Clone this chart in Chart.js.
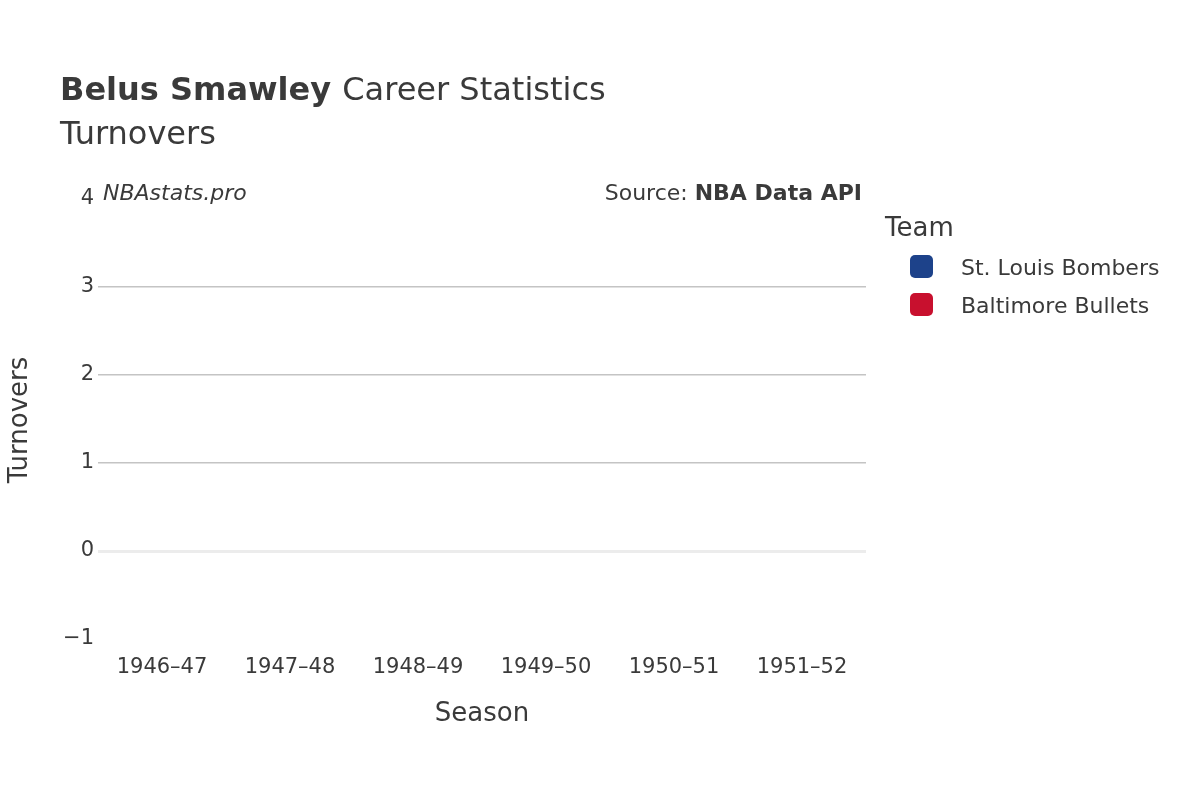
<!DOCTYPE html>
<html>
<head>
<meta charset="utf-8">
<script src="https://cdn.jsdelivr.net/npm/chart.js@4/dist/chart.umd.min.js"></script>
<style>body{margin:0;background:#fff}</style>
</head>
<body>
<canvas id="c" width="1200" height="800"></canvas>
<script>
// seasons on the x axis, no turnover values were recorded
const seasons = ['1946–47', '1947–48', '1948–49', '1949–50', '1950–51', '1951–52'];
const bombers = [null, null, null, null, null, null];
const bullets = [null, null, null, null, null, null];
const teams = ['St. Louis Bombers', 'Baltimore Bullets'];
const teamColors = ['#1d428a', '#c8102e'];
const yMin = -1, yMax = 4;

const font = '"DejaVu Sans", sans-serif';
const ink = '#3a3a3a';

const textPlugin = {
  id: 'texts',
  afterDraw(chart) {
    const c = chart.ctx;
    c.save();
    c.fillStyle = ink;
    c.textBaseline = 'alphabetic';
    c.textAlign = 'left';
    c.font = 'bold 32px ' + font;
    c.fillText('Belus Smawley', 60, 100);
    let w = c.measureText('Belus Smawley ').width;
    c.font = '32px ' + font;
    c.fillText('Career Statistics', 60 + w, 100);
    c.fillText('Turnovers', 60, 144);

    c.font = 'italic 22px ' + font;
    c.fillText('NBAstats.pro', 103, 200);
    c.textAlign = 'right';
    c.font = 'bold 22px ' + font;
    c.fillText('NBA Data API', 862, 200);
    let bw = c.measureText('NBA Data API').width;
    c.font = '22px ' + font;
    c.fillText('Source: ', 862 - bw, 200);

    c.textAlign = 'center';
    c.font = '26px ' + font;
    c.fillText('Season', 482, 721);
    c.save();
    c.translate(27, 420);
    c.rotate(-Math.PI / 2);
    c.fillText('Turnovers', 0, 0);
    c.restore();

    c.textAlign = 'left';
    c.fillText('Team', 885, 236);
    c.font = '22px ' + font;
    teams.forEach((t, i) => {
      const y = 266 + i * 38;
      c.fillStyle = teamColors[i];
      c.beginPath();
      c.roundRect(910, y - 11, 23, 23, 5);
      c.fill();
      c.fillStyle = ink;
      c.fillText(t, 961, y + 9);
    });
    c.restore();
  }
};

new Chart(document.getElementById('c'), {
  type: 'line',
  data: {
    labels: seasons,
    datasets: [
      {label: teams[0], data: bombers, borderColor: teamColors[0], backgroundColor: teamColors[0]},
      {label: teams[1], data: bullets, borderColor: teamColors[1], backgroundColor: teamColors[1]}
    ]
  },
  options: {
    responsive: false,
    animation: false,
    layout: {padding: {left: 0, right: 334, top: 199, bottom: 0}},
    plugins: {legend: {display: false}, tooltip: {enabled: false}},
    scales: {
      x: {
        offset: true,
        grid: {display: false},
        border: {display: false},
        ticks: {color: ink, font: {family: font, size: 21}, padding: 8, maxRotation: 0},
        afterFit(s) { s.height = 161; }
      },
      y: {
        min: yMin, max: yMax,
        grid: {
          color: ctx => ctx.tick.value === 0 ? '#ececec' : (ctx.tick.value === yMin || ctx.tick.value === yMax ? 'rgba(0,0,0,0)' : '#c4c4c4'),
          lineWidth: ctx => ctx.tick.value === 0 ? 3 : 1.5,
          drawTicks: false
        },
        border: {display: false},
        ticks: {stepSize: 1, color: ink, font: {family: font, size: 21}, padding: 4,
          callback: v => v < 0 ? '−' + Math.abs(v) : v},
        afterFit(s) { s.width = 98; }
      }
    }
  },
  plugins: [textPlugin]
});
</script>
</body>
</html>
